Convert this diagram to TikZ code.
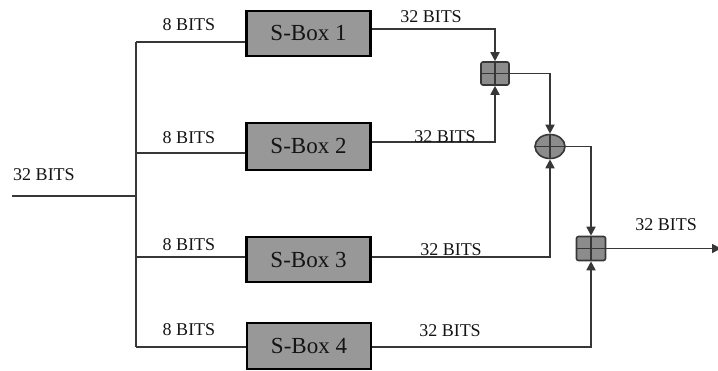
\documentclass[tikz,border=0pt]{standalone}
\usepackage{fontspec}
\setmainfont{Liberation Serif}
\usetikzlibrary{arrows.meta,shapes.geometric}
\definecolor{wire}{RGB}{55,55,55}
\definecolor{boxfill}{RGB}{152,152,152}
\definecolor{opfill}{RGB}{140,140,140}
\definecolor{ink}{RGB}{20,20,20}
\tikzset{
  wireline/.style={draw=wire,line width=1.7pt},
  flow/.style={wireline,-{Triangle[width=9pt,length=9pt]}},
  sbox/.style={draw=black,line width=2.4pt,fill=boxfill,minimum width=124pt,
    minimum height=45pt,inner sep=0pt,text=ink,font=\fontsize{23}{25}\selectfont},
  bitlabel/.style={inner sep=0pt,text=ink,font=\fontsize{18}{20}\selectfont},
  addbox/.style={draw=wire,line width=1.6pt,fill=opfill,rounded corners=2pt,
    minimum width=28pt,minimum height=23pt,inner sep=0pt,
    path picture={\draw[wire,line width=1.4pt]
      (path picture bounding box.north) -- (path picture bounding box.south)
      (path picture bounding box.west) -- (path picture bounding box.east);}},
  xorop/.style={ellipse,draw=wire,line width=1.6pt,fill=opfill,
    minimum width=30pt,minimum height=24pt,inner sep=0pt,
    path picture={\draw[wire,line width=1.4pt]
      (path picture bounding box.north) -- (path picture bounding box.south)
      (path picture bounding box.west) -- (path picture bounding box.east);}}
}
\begin{document}
\begin{tikzpicture}[x=1pt,y=-1pt]
\useasboundingbox (0,0) rectangle (718,371);

% S-boxes
\node[sbox] (box1) at (308.5,33.5) {S-Box 1};
\node[sbox,minimum height=47pt] (box2) at (308.5,146.5) {S-Box 2};
\node[sbox] (box3) at (308.5,259.5) {S-Box 3};
\node[sbox,minimum height=46pt] (box4) at (309,346) {S-Box 4};

% combining operators
\node[addbox] (add1) at (495,73.5) {};
\node[xorop] (xor) at (550,146.5) {};
\node[addbox,minimum width=29pt,minimum height=24pt] (add2) at (591,248.5) {};

% input bus
\coordinate (in) at (12,196);
\coordinate (join) at (136,196);
\coordinate (b1) at (136,42);
\coordinate (b2) at (136,153);
\coordinate (b3) at (136,257);
\coordinate (b4) at (136,347);
\coordinate (out) at (721,248.5);

\draw[wireline] (in) -- (join);
\draw[wireline] (b1) -- (b4);
\draw[wireline] (b1) -- (b1 -| box1.west);
\draw[wireline] (b2) -- (b2 -| box2.west);
\draw[wireline] (b3) -- (b3 -| box3.west);
\draw[wireline] (b4) -- (b4 -| box4.west);

% S-box outputs
\coordinate (o1) at ([yshift=4.5pt]box1.east);
\coordinate (o2) at ([yshift=4.5pt]box2.east);
\coordinate (o3) at ([yshift=2.5pt]box3.east);
\coordinate (o4) at ([yshift=-1pt]box4.east);

\draw[flow] (o1) -| (add1.north);
\draw[flow] (o2) -| (add1.south);
\draw[flow] (add1.east) -| (xor.north);
\draw[flow] (o3) -| (xor.south);
\draw[flow] (xor.east) -| (add2.north);
\draw[flow] (o4) -| (add2.south);
\draw[flow] (add2.east) -- (out);

% width labels
\node[bitlabel] (lin) at (44,175) {32 BITS};
\node[bitlabel] (l81) at (189,25) {8 BITS};
\node[bitlabel] (l82) at (189,138) {8 BITS};
\node[bitlabel] (l83) at (189,245) {8 BITS};
\node[bitlabel] (l84) at (189,330) {8 BITS};
\node[bitlabel] (l321) at (431,17) {32 BITS};
\node[bitlabel] (l322) at (445,137) {32 BITS};
\node[bitlabel] (l323) at (451,250) {32 BITS};
\node[bitlabel] (l324) at (450,331) {32 BITS};
\node[bitlabel] (lout) at (666,225) {32 BITS};
\end{tikzpicture}
\end{document}
